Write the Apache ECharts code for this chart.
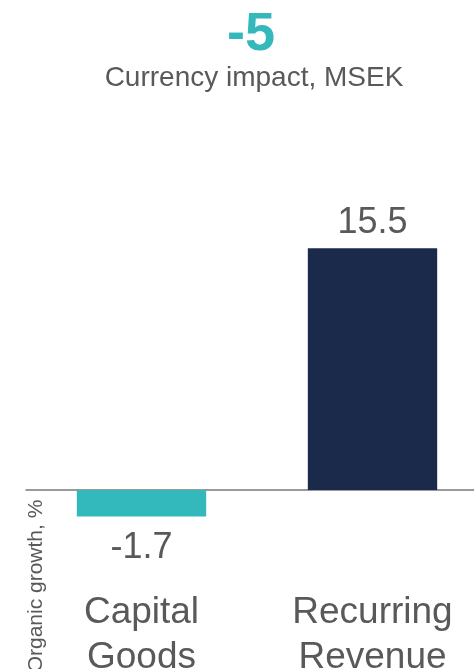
<!DOCTYPE html>
<html>
<head>
<meta charset="utf-8">
<script src="https://cdn.jsdelivr.net/npm/echarts@6/dist/echarts.min.js"></script>
<style>
  html, body { margin: 0; padding: 0; background: #ffffff; }
  #chart { width: 474px; height: 669px; }
</style>
</head>
<body>
<div id="chart"></div>
<script>
// Organic growth by business type, with the currency impact headline
const categories = ['Capital\nGoods', 'Recurring\nRevenue'];
const growthValues = [-1.7, 15.5];
const barColors = ['#33b8bc', '#1b2a4b'];
const currencyImpact = '-5';
const currencyCaption = 'Currency impact, MSEK';
const yAxisTitle = 'Organic growth, %';

const FONT = "'Liberation Sans', Arial, Helvetica, sans-serif";
const GREY = '#595959';

const chart = echarts.init(document.getElementById('chart'), null, { renderer: 'canvas' });

chart.setOption({
  animation: false,
  backgroundColor: '#ffffff',
  title: [
    {
      text: currencyImpact,
      left: 251,
      top: 8,
      padding: 0,
      textAlign: 'center',
      textStyle: { fontFamily: FONT, fontSize: 54, fontWeight: 'bold', color: '#33b8bc' }
    },
    {
      text: currencyCaption,
      left: 254,
      top: 64,
      padding: 0,
      textAlign: 'center',
      textStyle: { fontFamily: FONT, fontSize: 28, fontWeight: 'normal', color: GREY }
    }
  ],
  graphic: [
    {
      type: 'text',
      x: 36,
      y: 586,
      rotation: Math.PI / 2,
      style: {
        text: yAxisTitle,
        align: 'center',
        verticalAlign: 'middle',
        fontFamily: FONT,
        fontSize: 21,
        fill: GREY
      }
    }
  ],
  grid: {
    left: 26, right: -14, top: 178, bottom: 132.2,
    containLabel: false,
    outerBoundsMode: 'none'
  },
  xAxis: {
    type: 'category',
    data: categories,
    axisLine: { show: true, onZero: true, lineStyle: { color: '#7a7a7a', width: 1.5 } },
    axisTick: { show: false },
    axisLabel: {
      interval: 0,
      margin: 53,
      fontFamily: FONT,
      fontSize: 37,
      lineHeight: 45,
      color: GREY
    },
    splitLine: { show: false }
  },
  yAxis: {
    type: 'value',
    min: -3,
    max: 20,
    show: false,
    splitLine: { show: false }
  },
  series: [
    {
      type: 'bar',
      barWidth: '56%',
      data: growthValues.map((v, i) => ({
        value: v,
        itemStyle: { color: barColors[i] },
        label: { position: v < 0 ? 'bottom' : 'top', distance: v < 0 ? 14 : 7 }
      })),
      label: {
        show: true,
        fontFamily: FONT,
        fontSize: 36,
        color: GREY,
        formatter: p => p.value.toFixed(1)
      }
    }
  ]
});
</script>
</body>
</html>
